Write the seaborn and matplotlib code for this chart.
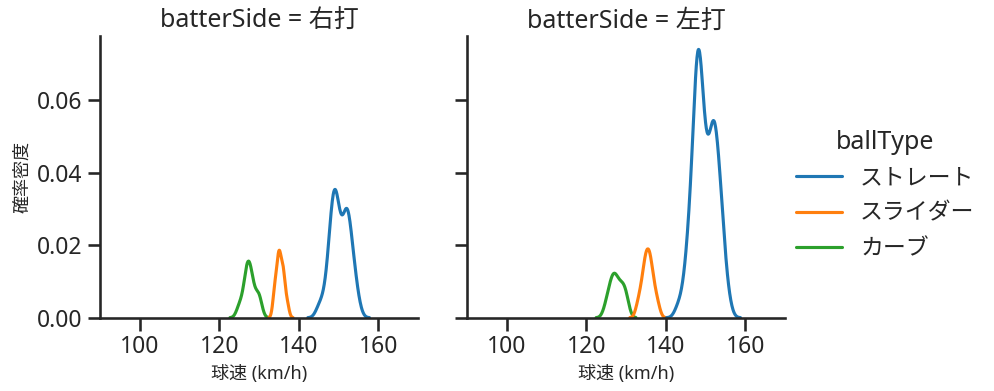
import matplotlib
matplotlib.use("Agg")
import pandas as pd
import matplotlib.pyplot as plt
import seaborn as sns

# 球種と打者の並び
ball_types = ["ストレート", "スライダー", "カーブ"]
batter_sides = ["右打", "左打"]

# 球速の度数表 (km/h, 球数) - 右打者
right_straight_kmh = [145, 146, 147, 148, 149, 150, 151, 152, 153, 154, 155]
right_straight_cnt = [1, 1, 2, 6, 9, 6, 4, 8, 5, 3, 1]
right_slider_kmh = [134, 135, 136, 137]
right_slider_cnt = [2, 4, 3, 1]
right_curve_kmh = [125, 126, 127, 128, 129, 130]
right_curve_cnt = [1, 1, 4, 3, 1, 2]

# 左打者
left_straight_kmh = [143, 144, 145, 146, 147, 148, 149, 150, 151, 152, 153, 154, 155, 156]
left_straight_cnt = [1, 1, 3, 6, 10, 19, 14, 9, 9, 13, 10, 7, 3, 1]
left_slider_kmh = [133, 134, 135, 136, 137, 138]
left_slider_cnt = [1, 2, 4, 4, 2, 1]
left_curve_kmh = [125, 126, 127, 128, 129, 130]
left_curve_cnt = [1, 2, 3, 2, 2, 2]

sns.set_style("ticks")
sns.set_context("talk")
plt.rcParams["font.family"] = ["Noto Sans", "Noto Sans CJK JP", "DejaVu Sans"]


def build_frame():
    """度数表を1球ごとの行に展開する。"""
    groups = [
        ("右打", "ストレート", right_straight_kmh, right_straight_cnt),
        ("右打", "スライダー", right_slider_kmh, right_slider_cnt),
        ("右打", "カーブ", right_curve_kmh, right_curve_cnt),
        ("左打", "ストレート", left_straight_kmh, left_straight_cnt),
        ("左打", "スライダー", left_slider_kmh, left_slider_cnt),
        ("左打", "カーブ", left_curve_kmh, left_curve_cnt),
    ]
    rows = []
    for side, ball, speeds, counts in groups:
        for v, c in zip(speeds, counts):
            rows += [{"batterSide": side, "ballType": ball, "speed": v}] * c
    return pd.DataFrame(rows)


df = build_frame()

g = sns.displot(data=df, x="speed", hue="ballType", col="batterSide", kind="kde",
                hue_order=ball_types, col_order=batter_sides, bw_adjust=0.85,
                height=4, aspect=1)
g.set(xlim=(90, 170))
g.set_axis_labels("球速 (km/h)", "確率密度", fontsize=13)

g.figure.set_size_inches(9.95, 3.91)
g.figure.subplots_adjust(left=0.1005, right=0.789, bottom=0.1875, top=0.908, wspace=0.153)
g.figure.savefig("out.png", dpi=100)
